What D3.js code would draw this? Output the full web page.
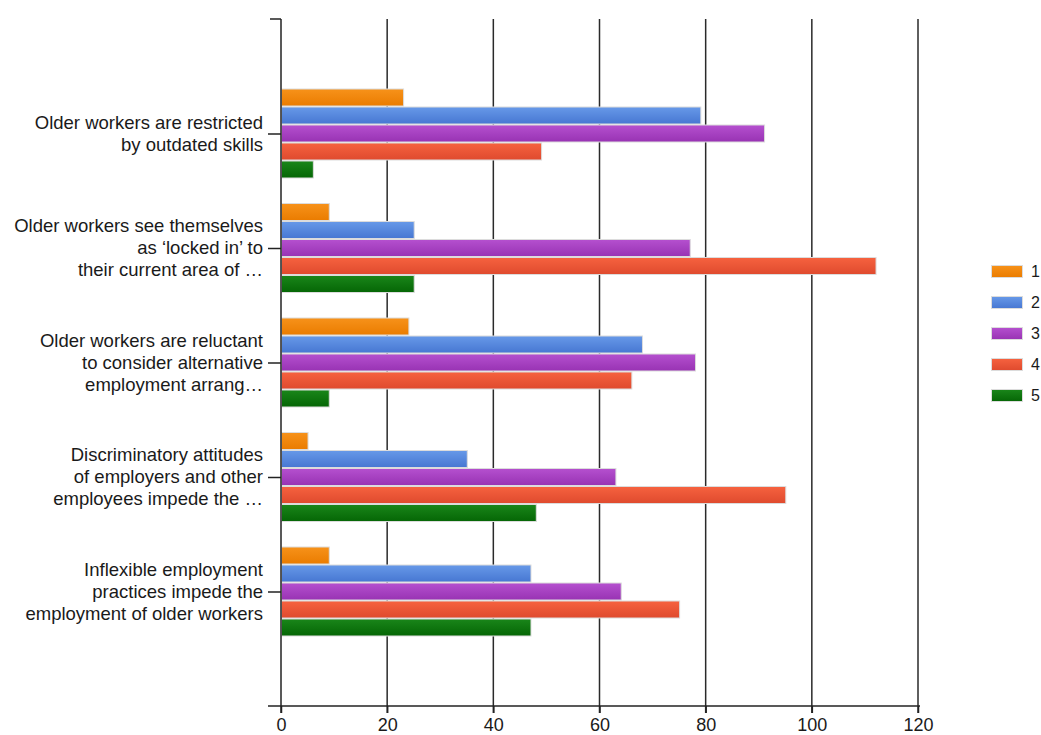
<!DOCTYPE html>
<html>
<head>
<meta charset="utf-8">
<script src="https://cdn.jsdelivr.net/npm/d3@7"></script>
<style>
  html, body { margin: 0; padding: 0; background: #fff; }
  svg { display: block; }
  text { font-family: "Liberation Sans", Arial, sans-serif; fill: #1a1a1a; }
</style>
</head>
<body>
<svg id="chart" width="1041" height="735"></svg>
<script>
// ---- data ----
const categories = [
  ["Older workers are restricted", "by outdated skills"],
  ["Older workers see themselves", "as \u2018locked in\u2019 to", "their current area of \u2026"],
  ["Older workers are reluctant", "to consider alternative", "employment arrang\u2026"],
  ["Discriminatory attitudes", "of employers and other", "employees impede the \u2026"],
  ["Inflexible employment", "practices impede the", "employment of older workers"]
];
const seriesNames = ["1", "2", "3", "4", "5"];
const series1 = [23, 9, 24, 5, 9];
const series2 = [79, 25, 68, 35, 47];
const series3 = [91, 77, 78, 63, 64];
const series4 = [49, 112, 66, 95, 75];
const series5 = [6, 25, 9, 48, 47];
const xTicks = [0, 20, 40, 60, 80, 100, 120];

const seriesValues = [series1, series2, series3, series4, series5];
const colorTop = ["#f7921a", "#6799e8", "#b550cf", "#f6623f", "#1a861a"];
const colorBot = ["#ea7c00", "#4777d2", "#9833b3", "#df4a2e", "#056605"];

const svg = d3.select("#chart");
const defs = svg.append("defs");
seriesNames.forEach((s, i) => {
  const g = defs.append("linearGradient").attr("id", "grad" + i)
    .attr("x1", 0).attr("y1", 0).attr("x2", 0).attr("y2", 1);
  g.append("stop").attr("offset", "0%").attr("stop-color", colorTop[i]);
  g.append("stop").attr("offset", "100%").attr("stop-color", colorBot[i]);
});

const x = d3.scaleLinear().domain([0, 120]).range([281, 918]);
const catIdx = d3.range(categories.length);
const y = d3.scalePoint().domain(catIdx).range([19, 706]).padding(1);
const inner = d3.scaleBand().domain(d3.range(seriesNames.length)).range([-45, 45]).paddingInner(0);

// gridlines
svg.append("g").selectAll("line").data(xTicks.slice(1)).join("line")
  .attr("x1", d => x(d)).attr("x2", d => x(d))
  .attr("y1", 19).attr("y2", 713)
  .attr("stroke", "#2a2a2a").attr("stroke-width", 1.5);

// bars
const groups = svg.append("g").selectAll("g").data(catIdx).join("g")
  .attr("transform", c => `translate(0,${y(c)})`);
groups.selectAll("rect").data(c => seriesValues.map((vals, si) => ({si, v: vals[c]}))).join("rect")
  .attr("x", x(0) + 0.5)
  .attr("y", d => inner(d.si) + 0.5)
  .attr("width", d => x(d.v) - x(0))
  .attr("height", inner.bandwidth() - 1)
  .attr("fill", d => `url(#grad${d.si})`)
  .attr("stroke", "#dcdcdc").attr("stroke-width", 1);

// x axis
const xAxis = d3.axisBottom(x).tickValues(xTicks).tickSize(7).tickSizeOuter(0);
const gx = svg.append("g").attr("transform", "translate(0,706)").call(xAxis);
gx.select(".domain").remove();
gx.append("line").attr("x1", 268).attr("x2", 920).attr("y1", 0).attr("y2", 0)
  .attr("stroke", "#222").attr("stroke-width", 1.5);
gx.selectAll(".tick line").attr("stroke", "#222").attr("stroke-width", 1.5);
gx.selectAll(".tick text").attr("y", 24.5).attr("dy", "0")
  .style("font-size", "18px").style("font-family", "'Liberation Sans', Arial, sans-serif").attr("fill", "#1a1a1a");

// y axis
const yAxis = d3.axisLeft(y).tickSize(13).tickSizeOuter(0).tickFormat(() => "");
const gy = svg.append("g").attr("transform", "translate(281,0)").call(yAxis);
gy.select(".domain").remove();
gy.append("line").attr("x1", 0).attr("x2", 0).attr("y1", 19).attr("y2", 713)
  .attr("stroke", "#222").attr("stroke-width", 1.5);
gy.append("line").attr("x1", -11).attr("x2", 0).attr("y1", 19).attr("y2", 19)
  .attr("stroke", "#222").attr("stroke-width", 1.5);
gy.selectAll(".tick line").attr("stroke", "#222").attr("stroke-width", 1.5);
gy.selectAll(".tick").each(function(c) {
  const lines = categories[c];
  const t = d3.select(this).append("text")
    .attr("text-anchor", "end").attr("x", -18)
    .style("font-size", "18.5px").attr("fill", "#1a1a1a");
  const lh = 22;
  const start = -(lines.length - 1) * lh / 2;
  lines.forEach((ln, i) => {
    t.append("tspan").attr("x", -18).attr("y", start + i * lh).attr("dy", "0.3em").text(ln);
  });
});

// legend
const legend = svg.append("g").selectAll("g").data(seriesNames).join("g")
  .attr("transform", (d, i) => `translate(991,${265 + i * 31})`);
legend.append("rect").attr("x", 0.5).attr("y", 0.5).attr("width", 31).attr("height", 12)
  .attr("fill", (d, i) => `url(#grad${i})`).attr("stroke", "#dcdcdc");
legend.append("text").attr("x", 40).attr("y", 6.5).attr("dy", "0.35em")
  .style("font-size", "16px").text(d => d);
</script>
</body>
</html>
